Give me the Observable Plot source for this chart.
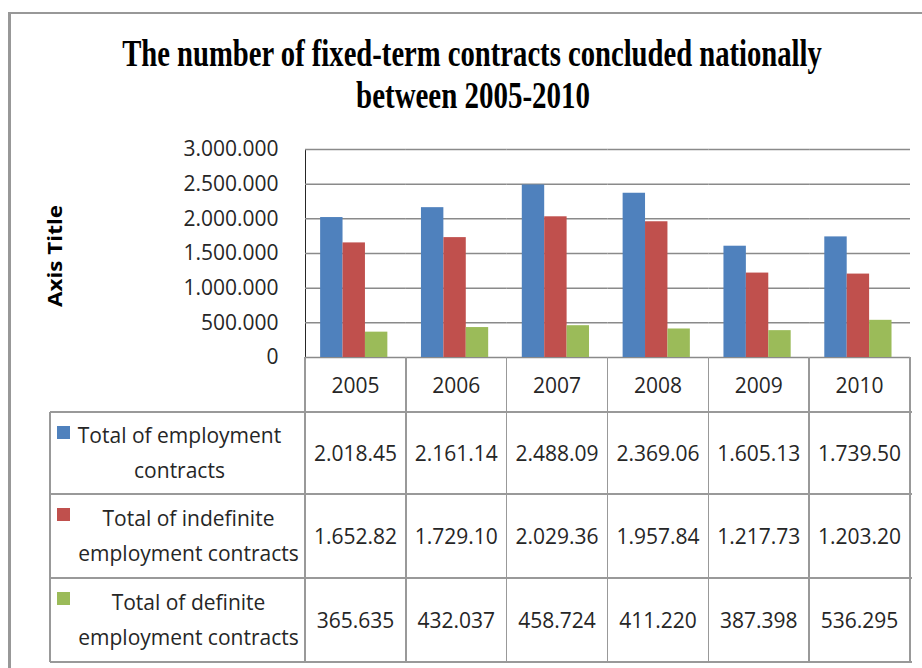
<!DOCTYPE html>
<html>
<head>
<meta charset="utf-8">
<script src="https://cdn.jsdelivr.net/npm/d3@7"></script>
<script src="https://cdn.jsdelivr.net/npm/@observablehq/plot@0.6"></script>
<style>
  html, body { margin: 0; padding: 0; background: #fff; }
  #root { position: relative; width: 922px; height: 668px; overflow: hidden; font-family: "Open Sans", sans-serif; color: #262626; }
  .abs { position: absolute; }
  .cell { position: absolute; display: flex; align-items: center; justify-content: center; font-size: 21px; box-sizing: border-box; }
  .hl { position: absolute; height: 1.5px; background: #999; }
  .vl { position: absolute; width: 1.5px; background: #999; }
</style>
</head>
<body>
<div id="root"></div>
<script>
// ---- data ----
const years = ["2005", "2006", "2007", "2008", "2009", "2010"];
const seriesNames = [
  "Total of employment contracts",
  "Total of indefinite employment contracts",
  "Total of definite employment contracts"
];
const seriesLabelLines = [
  ["Total of employment", "contracts"],
  ["Total of indefinite", "employment contracts"],
  ["Total of definite", "employment contracts"]
];
const totalContracts      = [2018450, 2161140, 2488090, 2369060, 1605130, 1739500];
const indefiniteContracts = [1652820, 1729100, 2029360, 1957840, 1217730, 1203200];
const definiteContracts   = [365635, 432037, 458724, 411220, 387398, 536295];
const seriesColors = ["#4F81BD", "#C0504D", "#9BBB59"];
const yTicks = [0, 500000, 1000000, 1500000, 2000000, 2500000, 3000000];
const titleLines = ["The number of fixed-term contracts concluded nationally", "between 2005-2010"];
const axisTitle = "Axis Title";

const seriesValues = [totalContracts, indefiniteContracts, definiteContracts];
const data = [];
years.forEach((yr, i) => seriesNames.forEach((s, j) => data.push({year: yr, series: s, value: seriesValues[j][i]})));
const dotFormat = v => d3.format(",")(v).replace(/,/g, ".");

const root = document.getElementById("root");

// ---- outer chart border ----
const border = document.createElement("div");
border.className = "abs";
Object.assign(border.style, {left: "8px", top: "12px", width: "1000px", height: "1000px",
  borderLeft: "3px solid #989898", borderTop: "2px solid #989898"});
root.appendChild(border);

// ---- title + axis title ----
const ns = "http://www.w3.org/2000/svg";
const over = document.createElementNS(ns, "svg");
over.setAttribute("width", 922); over.setAttribute("height", 668);
over.style.position = "absolute"; over.style.left = "0"; over.style.top = "0";
root.appendChild(over);
const tdefs = [
  {t: titleLines[0], x: 472, y: 66, len: 700},
  {t: titleLines[1], x: 473, y: 108, len: 234}
];
tdefs.forEach(d => {
  const g = document.createElementNS(ns, "g");
  over.appendChild(g);
  const el = document.createElementNS(ns, "text");
  el.setAttribute("text-anchor", "middle");
  el.setAttribute("font-family", "Liberation Serif, serif");
  el.setAttribute("font-weight", "bold");
  el.setAttribute("font-size", "38");
  el.setAttribute("fill", "#000");
  el.textContent = d.t;
  g.appendChild(el);
  const natural = el.getComputedTextLength() || d.len;
  g.setAttribute("transform", `translate(${d.x},${d.y}) scale(${d.len / natural},1)`);
});
const ag = document.createElementNS(ns, "g");
over.appendChild(ag);
const at = document.createElementNS(ns, "text");
at.setAttribute("text-anchor", "middle");
at.setAttribute("font-family", "Open Sans, sans-serif");
at.setAttribute("font-weight", "bold");
at.setAttribute("font-size", "20");
at.setAttribute("fill", "#000");
at.textContent = axisTitle;
ag.appendChild(at);
const atLen = at.getComputedTextLength() || 102;
ag.setAttribute("transform", `translate(62,256) rotate(-90) scale(${102 / atLen},1)`);

// ---- chart ----
const plotTop = 130;
const chart = Plot.plot({
  width: 922,
  height: 232,
  marginLeft: 305,
  marginRight: 12,
  marginTop: 19,
  marginBottom: 5,
  style: {fontFamily: "Open Sans, sans-serif", fontSize: "21px", color: "#262626", background: "none", overflow: "visible"},
  fx: {domain: years, padding: 0, round: false, axis: null},
  x: {domain: seriesNames, paddingInner: 0, paddingOuter: 0.75, align: 0.45, round: false, axis: null},
  y: {domain: [0, 3000000], ticks: yTicks, tickFormat: dotFormat, tickSize: 0, tickPadding: 27, label: null, line: true},
  color: {domain: seriesNames, range: seriesColors},
  marks: [
    Plot.gridY(yTicks, {stroke: "#8a8a8a", strokeOpacity: 1, strokeWidth: 1.5}),
    Plot.barY(data, {fx: "year", x: "series", y: "value", fill: "series"})
  ]
});
chart.style.position = "absolute";
chart.style.left = "0px";
chart.style.top = plotTop + "px";
root.appendChild(chart);

// ---- data table (aligned with the fx scale) ----
const fx = chart.scale("fx");
const colW = fx.bandwidth || (922 - 12 - 305) / years.length;
const colX = years.map(y => fx.apply(y));
const tableLeft = 50;
const plotLeft = colX[0];
const plotRight = colX[colX.length - 1] + colW;
const y0 = plotTop + chart.scale("y").apply(0);
const rowTops = [y0, 412, 494, 578, 662];

function hline(x1, x2, y) {
  const d = document.createElement("div"); d.className = "hl";
  Object.assign(d.style, {left: x1 + "px", width: (x2 - x1 + 1.5) + "px", top: (y - 0.75) + "px"});
  root.appendChild(d);
}
function vline(x, y1, y2) {
  const d = document.createElement("div"); d.className = "vl";
  Object.assign(d.style, {left: (x - 0.75) + "px", top: y1 + "px", height: (y2 - y1) + "px"});
  root.appendChild(d);
}
function cell(x, y, w, h, html, extra) {
  const d = document.createElement("div"); d.className = "cell";
  Object.assign(d.style, {left: x + "px", top: y + "px", width: w + "px", height: h + "px"}, extra || {});
  d.innerHTML = html;
  root.appendChild(d);
  return d;
}

// lines
[1, 2, 3, 4].forEach(i => hline(tableLeft, plotRight, rowTops[i]));
vline(tableLeft, rowTops[1], rowTops[4]);
colX.forEach(x => vline(x, y0, rowTops[4]));
vline(plotRight, y0, rowTops[4]);

// header
years.forEach((yr, i) => cell(colX[i], y0, colW, rowTops[1] - y0, yr));

// rows
seriesNames.forEach((s, j) => {
  const top = rowTops[j + 1], h = rowTops[j + 2] - top;
  cell(tableLeft, top, plotLeft - tableLeft, h,
    seriesLabelLines[j].map(l => `<div>${l}</div>`).join(""),
    {flexDirection: "column", lineHeight: "35px", paddingLeft: "22px", paddingRight: j === 0 ? "18px" : "0px", textAlign: "center", whiteSpace: "nowrap"});
  const mk = document.createElement("div");
  Object.assign(mk.style, {position: "absolute", left: "57px", top: (top + 14) + "px", width: "13px", height: "13px", background: seriesColors[j]});
  root.appendChild(mk);
  years.forEach((yr, i) => cell(colX[i], top, colW, h, dotFormat(seriesValues[j][i]).slice(0, 8)));
});
</script>
</body>
</html>
